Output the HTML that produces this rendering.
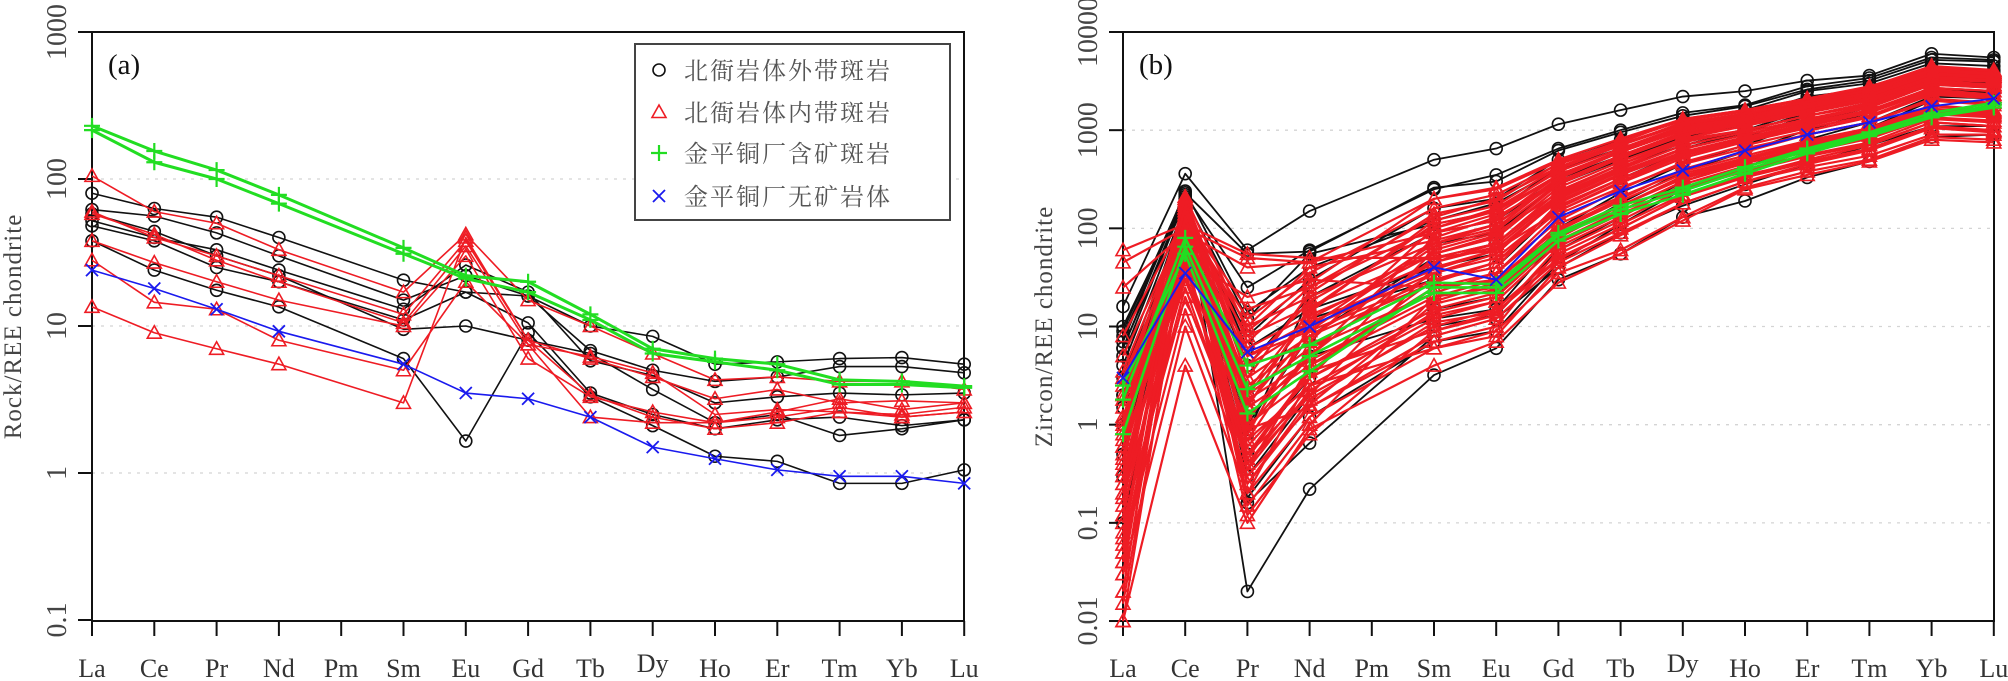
<!DOCTYPE html>
<html><head><meta charset="utf-8"><title>REE chondrite-normalised patterns</title>
<style>
html,body{margin:0;padding:0;background:#fff;}
svg{display:block;}
text{font-family:"Liberation Serif","Noto Serif CJK SC",serif;}
.cjk{font-family:"Liberation Serif","Noto Serif CJK SC","Noto Sans CJK SC",serif;}
</style></head>
<body>
<svg id="chart" width="2008" height="681" viewBox="0 0 2008 681" xmlns="http://www.w3.org/2000/svg"></svg>
<script>
// ---------- data ----------
const elements = ["La","Ce","Pr","Nd","Pm","Sm","Eu","Gd","Tb","Dy","Ho","Er","Tm","Yb","Lu"];
const measuredIdx = [0,1,2,3,5,6,7,8,9,10,11,12,13,14];
const yTicksA = [0.1,1,10,100,1000];
const yTickLabelsA = ["0.1","1","10","100","1000"];
const yTicksB = [0.01,0.1,1,10,100,1000,10000];
const yTickLabelsB = ["0.01","0.1","1","10","100","1000","10000"];
const legendLabels = ["北衙岩体外带斑岩","北衙岩体内带斑岩","金平铜厂含矿斑岩","金平铜厂无矿岩体"];

// panel (a) whole rock
const aBlack = [
 [80,63,55,40,20.5,17,16,10,8.5,5.5,5.7,6,6.1,5.5],
 [62,56,43,30,15,22,16,6.8,5,4.2,4.5,5.3,5.3,4.8],
 [52,40,33,24,13,26,17,5.8,4.6,3.0,3.3,3.5,3.4,3.5],
 [48,38,25,20,11,17,10.5,3.5,2.5,2.0,2.3,2.4,2.1,2.3],
 [38,24,17.5,13.5,6,1.65,9,3.3,2.1,1.3,1.2,0.85,0.85,1.05],
 [58,44,30,22,9.5,10,8,6.5,3.7,2.2,2.5,1.8,2.0,2.3]
];
const aRed = [
 [105,60,50,33,17,42,15,10,6.5,4.3,4.5,4.2,4.2,3.7],
 [60,40,30,22,12,38,8,6,4.5,3.2,3.7,3.0,3.1,3.0],
 [58,42,28,20,10.5,35,7.5,6.2,4.8,2.5,2.7,2.6,2.5,2.8],
 [38,27,20,15,10,30,6,3.3,2.6,2.2,2.4,2.8,2.4,2.6],
 [28,14.5,13,8,5,20,7.5,2.4,2.2,2.2,2.6,3.2,2.7,3.0],
 [13.5,9,7,5.5,3,40,8,3.4,2.4,2.0,2.2,2.6,2.4,2.6]
];
const aGreen = [
 [230,155,115,78,34,22,20,12,7,6,5.5,4.3,4.2,3.9],
 [215,130,100,68,31,21,17,11,6.5,5.7,5.0,4.0,4.0,3.8]
];
const aBlue = [
 [24,18,13,9.2,5.5,3.5,3.2,2.4,1.5,1.25,1.05,0.95,0.95,0.85]
];

// panel (b) zircon
const bBlack = [
 [16,360,60,150,500,650,1150,1600,2200,2500,3200,3600,6000,5500],
 [8,220,25,60,250,350,650,1000,1500,1800,2800,3400,5500,5200],
 [5,200,0.02,0.22,3.2,6,30,55,130,190,330,480,850,900],
 [2,180,0.16,0.65,8,12,40,90,170,280,450,700,1100,1100],
 [10,200,12,55,110,150,420,700,1150,1400,2200,2600,4200,4000],
 [3,150,4,20,90,120,320,550,900,1200,1800,2300,3800,3600],
 [6,190,1,8,50,70,220,420,700,1000,1600,2100,3500,3300],
 [4,170,2,12,30,40,160,320,600,850,1400,1900,3200,3000],
 [1,120,0.5,3,15,20,100,230,450,700,1200,1700,2900,2700],
 [0.3,100,0.9,5,12,15,80,180,380,600,1000,1500,2600,2400],
 [6,210,0.8,20,70,90,280,500,850,1150,1900,2400,4000,3800],
 [2,160,8,30,160,200,500,800,1300,1600,2500,3000,4800,4500],
 [9,230,55,58,260,300,620,950,1400,1750,2600,3200,5200,5000],
 [0.5,140,0.3,2,10,13,60,130,300,480,800,1200,2200,2100],
 [1.5,175,6,15,40,55,200,380,650,950,1500,2000,3400,3200],
 [0.1,130,0.18,1.2,7,9,45,110,250,420,700,1050,2000,1900],
 [7,240,14,40,120,180,400,650,1050,1300,2000,2500,4300,4100]
];
const bRed = [
 [60,110,55,50,50,60,200,400,800,1200,1800,2500,4200,3800],
 [45,100,50,45,90,120,350,600,1000,1400,2000,2700,4500,4000],
 [25,90,40,45,200,250,480,750,1300,1600,2100,2800,4300,3900],
 [0.01,4,0.1,0.9,4,7,28,55,120,250,350,480,800,750],
 [0.03,10,0.2,1.2,6,9,35,60,130,260,380,500,850,800],
 [0.05,15,0.3,1.5,8,12,45,90,180,300,420,550,900,900],
 [0.1,20,0.5,2,10,15,55,110,220,350,480,650,1100,1000],
 [0.2,30,0.7,2.5,12,18,70,140,260,400,560,750,1300,1200],
 [0.3,40,1,3,15,22,85,170,320,480,650,900,1500,1400],
 [0.5,50,1.5,4,18,28,110,210,380,550,780,1050,1800,1600],
 [0.8,60,2,6,22,35,140,260,450,650,900,1200,2100,1900],
 [1,70,3,8,28,45,170,320,550,780,1050,1400,2400,2200],
 [1.5,80,4,10,35,55,200,380,650,900,1200,1600,2700,2500],
 [2,90,6,13,45,70,240,450,760,1000,1400,1800,3000,2800],
 [3,100,8,16,55,85,280,520,880,1150,1550,2000,3300,3100],
 [5,110,10,20,70,100,320,600,1000,1300,1700,2200,3600,3300],
 [0.02,120,0.15,1,20,30,100,200,400,600,900,1200,2000,1800],
 [0.04,140,0.4,2,40,60,150,300,550,800,1100,1500,2600,2300],
 [0.07,160,0.6,3,60,90,230,450,800,1000,1400,1900,3200,2900],
 [0.15,180,1.2,5,80,130,300,550,950,1200,1650,2200,3700,3400],
 [0.4,150,2.5,7,100,160,380,650,1100,1350,1800,2400,3900,3600],
 [8,130,15,25,130,200,420,700,1200,1450,1900,2500,4000,3700],
 [0.6,50,20,30,25,30,90,170,330,500,700,950,1600,1500],
 [0.25,75,0.9,1.5,7,10,60,120,250,380,540,720,1200,1100],
 [1.2,95,5,9,30,40,180,350,600,850,1150,1500,2500,2300],
 [0.12,85,0.35,2.2,14,20,75,150,300,460,640,880,1450,1350],
 [0.9,65,1.8,4.5,20,25,95,190,360,520,720,980,1650,1550],
 [0.35,45,0.25,1.8,11,14,50,100,210,330,470,640,1050,980],
 [2.5,120,12,35,160,220,450,720,1150,1400,1850,2450,3900,3500],
 [0.18,35,0.45,3.5,9,13,65,130,280,430,600,820,1350,1250],
 [0.02,150,0.8,10,70,110,330,600,1000,1300,1750,2300,3800,3500],
 [0.03,170,1.5,15,110,150,400,700,1150,1450,1950,2600,4200,3800],
 [0.06,190,3,22,140,190,460,780,1250,1550,2050,2700,4400,4000],
 [0.08,130,0.7,6,35,50,160,320,580,820,1150,1550,2700,2500],
 [0.2,110,0.35,4,25,35,120,250,470,700,980,1350,2300,2100],
 [0.3,160,2,12,55,80,260,480,820,1100,1500,2000,3400,3100],
 [0.45,140,1.1,8,45,65,210,400,700,950,1300,1750,3000,2800],
 [0.7,200,4,18,90,140,350,620,1050,1350,1800,2400,4000,3700],
 [0.015,60,0.12,0.8,9,14,48,100,210,340,500,700,1200,1100],
 [0.05,90,0.25,1.6,17,24,80,170,340,520,750,1000,1750,1600],
 [0.12,100,0.5,3.5,30,45,150,290,520,760,1050,1400,2400,2200],
 [1.8,170,7,25,100,150,350,600,1000,1300,1750,2300,3800,3500],
 [3.5,120,10,40,75,110,300,550,950,1250,1700,2250,3700,3400],
 [0.01,80,0.9,5,50,70,220,420,750,1000,1400,1850,3100,2900],
 [0.04,55,0.2,3,13,18,70,150,300,470,680,920,1550,1450],
 [0.1,25,0.4,2.5,6,8,40,85,180,300,450,620,1050,950],
 [0.6,160,1.6,9,65,95,290,530,900,1200,1600,2100,3500,3200],
 [0.25,180,2.2,14,120,170,420,720,1180,1480,1950,2550,4100,3800],
 [1.1,200,5,11,38,60,190,360,640,900,1250,1700,2900,2700],
 [0.9,210,9,28,200,260,500,820,1300,1600,2100,2750,4500,4100]
];
const bGreen = [
 [1.8,80,4,6.5,28,27,90,170,260,420,650,950,1500,1900],
 [0.8,65,2.3,5,22,22,75,140,220,360,580,870,1350,1700],
 [2.5,55,1.3,3.5,25,25,85,155,240,390,620,900,1400,1800]
];
const bBlue = [
 [3,35,5.5,10,40,30,130,240,390,620,900,1200,1750,2100]
];

// ---------- axes ----------
const A = {x0:92, dx:62.3, top:32, bottom:621, right:964, ymax:3, dec:147};
const B = {x0:1123, dx:62.2, top:32, bottom:621, right:1994, ymax:4, dec:98.17};
function xScale(P,i){ return P.x0 + i*P.dx; }
function yScale(P,v){ return P.top + (P.ymax - Math.log10(v))*P.dec; }

const NS="http://www.w3.org/2000/svg";
const svg=document.getElementById('chart');
function mk(tag, attrs, parent){
  const e=document.createElementNS(NS,tag);
  for(const k in attrs) e.setAttribute(k,attrs[k]);
  (parent||svg).appendChild(e); return e;
}

function drawAxes(P, ticks, labels, title, panelLetter, prefix){
  const g=mk('g',{});
  
  
  ticks.forEach((v,k)=>{
    if(k===0||k===ticks.length-1) return;
    const gl=mk('line',{x1:P.x0,x2:P.right,y1:yScale(P,v),y2:yScale(P,v),stroke:'#d4d4d4','stroke-width':1.3,'stroke-dasharray':'3 6'},g);
    
    
  });
  const fr=mk('rect',{x:P.x0,y:P.top,width:P.right-P.x0,height:P.bottom-P.top,fill:'none',stroke:'#111','stroke-width':2},g);
  
  
  mk('line',{x1:P.x0-14,x2:P.x0,y1:P.top,y2:P.top,stroke:'#111','stroke-width':2},g);
  ticks.forEach((v,k)=>{
    const y=yScale(P,v);
    mk('line',{x1:P.x0-14,x2:P.x0,y1:y,y2:y,stroke:'#111','stroke-width':2},g);
    const t=mk('text',{x:0,y:0,transform:`translate(${P.x0-26},${y}) rotate(-90)`,'text-anchor':'middle','font-size':28,fill:'#444'},g);
    t.textContent=labels[k];
    
    
  });
  elements.forEach((el,i)=>{
    const x=xScale(P,i);
    mk('line',{x1:x,x2:x,y1:P.bottom,y2:P.bottom+15,stroke:'#111','stroke-width':2},g);
    const t=mk('text',{x:x,y:(el==='Dy'?672:677),'text-anchor':'middle','font-size':26,fill:'#333'},g);
    t.textContent=el;
    
    
  });
  const yt=mk('text',{x:0,y:0,transform:`translate(${P.x0-71},${(P.top+P.bottom)/2}) rotate(-90)`,'text-anchor':'middle','font-size':25,fill:'#444','letter-spacing':'1'},g);
  yt.textContent=title;
  
  
  const pl=mk('text',{x:P.x0+16,y:74,'font-size':29,fill:'#111'},g);
  pl.textContent=panelLetter;
  
  
}

function marker(type,x,y,color,g){
  let e;
  if(type==='circle') e=mk('circle',{cx:x,cy:y,r:6,fill:'none',stroke:color,'stroke-width':1.6},g);
  else if(type==='tri') e=mk('path',{d:`M${x},${y-7} L${x+7},${y+5.5} L${x-7},${y+5.5} Z`,fill:'none',stroke:color,'stroke-width':1.6},g);
  else if(type==='plus') e=mk('path',{d:`M${x-8},${y} H${x+8} M${x},${y-8} V${y+8}`,fill:'none',stroke:color,'stroke-width':2.2},g);
  else e=mk('path',{d:`M${x-6},${y-6} L${x+6},${y+6} M${x-6},${y+6} L${x+6},${y-6}`,fill:'none',stroke:color,'stroke-width':1.8},g);
  return e;
}

function drawSeries(P, rows, color, type, width, name){
  rows.forEach(row=>{
    const g=mk('g',{});
    
    
    const pts=row.map((v,k)=>[xScale(P,measuredIdx[k]), yScale(P,v)]);
    const pl=mk('polyline',{points:pts.map(p=>p.join(',')).join(' '),fill:'none',stroke:color,'stroke-width':width,'stroke-linejoin':'round'},g);
    
    
    pts.forEach(p=>{
      const m=marker(type,p[0],p[1],color,g);
      
      
    });
  });
}

drawAxes(A, yTicksA, yTickLabelsA, 'Rock/REE chondrite', '(a)', 'panel-a');
drawAxes(B, yTicksB, yTickLabelsB, 'Zircon/REE chondrite', '(b)', 'panel-b');

const BLK='#111', RED='#ee1c24', GRN='#22dd22', BLU='#1a1aee';
drawSeries(A, aBlack, BLK, 'circle', 1.6, 'panel-a-beiya-outer');
drawSeries(A, aRed, RED, 'tri', 1.6, 'panel-a-beiya-inner');
drawSeries(A, aGreen, GRN, 'plus', 3, 'panel-a-jinping-ore');
drawSeries(A, aBlue, BLU, 'x', 1.6, 'panel-a-jinping-barren');

drawSeries(B, bBlack, BLK, 'circle', 1.8, 'panel-b-beiya-outer');
drawSeries(B, bRed, RED, 'tri', 2.2, 'panel-b-beiya-inner');
drawSeries(B, bGreen, GRN, 'plus', 2.6, 'panel-b-jinping-ore');
drawSeries(B, bBlue, BLU, 'x', 2, 'panel-b-jinping-barren');

// legend
const lg=mk('g',{});


const lb=mk('rect',{x:635,y:44,width:315,height:176,fill:'#fff',stroke:'#444','stroke-width':2},lg);


const legTypes=['circle','tri','plus','x'];
const legColors=[BLK,RED,GRN,BLU];
const legY=[70,112,153,196];
legendLabels.forEach((lab,k)=>{
  const e=mk('g',{},lg);
  
  
  const m=marker(legTypes[k],659,legY[k],legColors[k],e);
  
  
  const t=mk('text',{x:684,y:legY[k]+9,'font-size':24,fill:'#555','letter-spacing':'2',class:'cjk'},e);
  t.textContent=lab;
  
  
});
</script>
</body></html>
